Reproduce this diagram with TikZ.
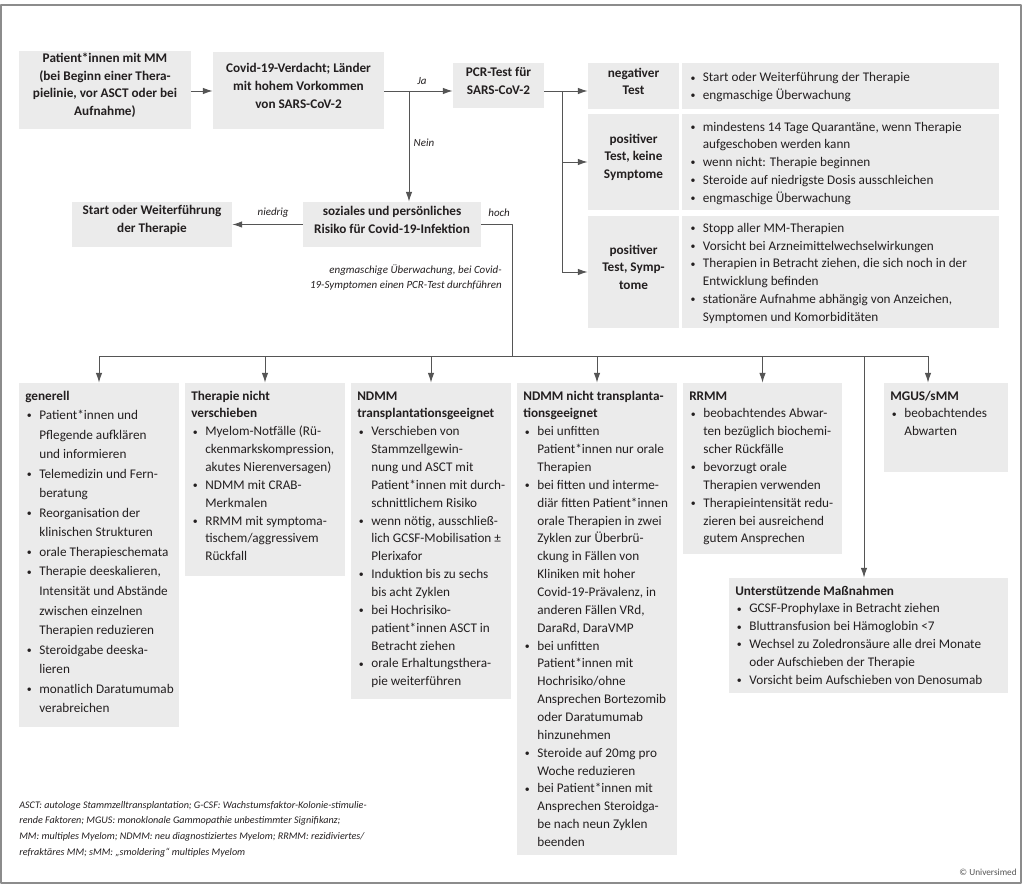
\documentclass[tikz,border=0pt]{standalone}
\usepackage{fontspec}
\setmainfont{Carlito}
\usetikzlibrary{arrows.meta,fit,calc}
\definecolor{ccInk}{HTML}{231F20}
\definecolor{ccBox}{HTML}{EBEBEB}
\definecolor{ccLine}{HTML}{555555}
\definecolor{ccFrame}{HTML}{8C8C8C}
\definecolor{ccMid}{HTML}{555555}
\tikzset{
 flowchart/.style={x=0.025cm,y=-0.025cm,text=ccInk,line join=round},
 box/.style={fill=ccBox,draw=none,inner sep=0pt},
 head/.style={box,font=\fontsize{9.4}{12.6}\selectfont\bfseries,align=center},
 listtxt/.style={inner sep=0pt,anchor=base west,font=\fontsize{9.4}{12.7}\selectfont,align=flush left,text width=3.8cm},
 sidetxt/.style={listtxt,anchor=west,font=\fontsize{9.4}{12.6}\selectfont,text width=7.6cm},
 tag/.style={font=\fontsize{7.8}{10.7}\selectfont\itshape,inner sep=0pt},
 conn/.style={draw=ccLine,line width=.7pt},
 arr/.style={conn,-{Latex[length=7pt,width=4.6pt]}},
 frame/.style={draw=ccFrame,line width=1.2pt}
}
\newcommand{\dotmark}{\raisebox{.5pt}{\fontsize{7}{7}\selectfont\textbullet}}
% bullet line / continuation line
\newcommand{\bu}{\makebox[10pt][l]{\hskip1.2pt\dotmark}}
\newcommand{\ci}{\hspace*{10pt}}

\begin{document}
\begin{tikzpicture}[flowchart]
 \useasboundingbox (0,0) rectangle (1024,885);
 \draw[frame] (1,5) rectangle (1021,883);

 % upper flow
 \node[head,fit={(19,51)(191,129)}] (patient) {Patient*innen mit MM\\(bei Beginn einer Thera-\\pielinie, vor ASCT oder bei\\Aufnahme)};
 \node[head,fit={(213,52)(384,129)}] (suspect) {Covid-19-Verdacht; Länder\\mit hohem Vorkommen\\von SARS-CoV-2};
 \node[head,fit={(453,63)(544,108)}] (pcr) {PCR-Test für\\SARS-CoV-2};
 \node[head,fit={(303,202)(481,247)}] (risk) {soziales und persönliches\\Risiko für Covid-19-Infektion};
 \node[head,fit={(72,202)(232,247)}] (start) {Start oder Weiterführung\\der Therapie};

 % test results
 \node[head,fit={(588,63)(679,109)}] (neg) {negativer\\Test};
 \node[head,fit={(588,114)(679,210)}] (posnosym) {positiver\\Test, keine\\Symptome};
 \node[head,fit={(588,216)(679,328)}] (possym) {positiver\\Test, Symp-\\tome};
 \node[box,fit={(682,63)(999,109)}] (negbox) {};
 \node[box,fit={(682,114)(999,210)}] (posnosymbox) {};
 \node[box,fit={(682,216)(999,328)}] (possymbox) {};
 \node[sidetxt] (negtxt) at ([xshift=.17cm,yshift=-.03cm]negbox.west) {\bu Start oder Weiterführung der Therapie\\\bu engmaschige Überwachung};
 \node[sidetxt] (posnosymtxt) at ([xshift=.17cm,yshift=-.03cm]posnosymbox.west) {\bu mindestens 14 Tage Quarantäne, wenn Therapie\\\ci aufgeschoben werden kann\\\bu wenn nicht: Therapie beginnen\\\bu Steroide auf niedrigste Dosis ausschleichen\\\bu engmaschige Überwachung};
 \node[sidetxt] (possymtxt) at ([xshift=.17cm,yshift=-.03cm]possymbox.west) {\bu Stopp aller MM-Therapien\\\bu Vorsicht bei Arzneimittelwechselwirkungen\\\bu Therapien in Betracht ziehen, die sich noch in der\\\ci Entwicklung befinden\\\bu stationäre Aufnahme abhängig von Anzeichen,\\\ci Symptomen und Komorbiditäten};

 \coordinate (ja) at (409,91);
 \coordinate (pcrfork) at (562,91);
 \coordinate (hi) at (512,356);
 \coordinate (mgusin) at (928,356);
 \coordinate (suppin) at (864,356);

 \draw[arr] (patient.east |- ja) -- (suspect.west |- ja);
 \draw[arr] (suspect.east |- ja) -- (pcr.west |- ja) node[tag,pos=.55,above=4pt] (lja) {Ja};
 \draw[arr] (ja) -- (ja |- risk.north) node[tag,pos=.47,right=3pt] (lnein) {Nein};
 \draw[arr] (risk.west) -- (start.east) node[tag,pos=.42,above=5pt] (lniedrig) {niedrig};
 \draw[conn] (risk.east) -- (risk.east -| hi) node[tag,pos=.58,above=5pt] (lhoch) {hoch} -- (hi);
 \draw[conn] (pcr.east |- ja) -- (pcrfork) -- (pcrfork |- possym.west);
 \draw[arr] (pcrfork) -- (neg.west |- ja);
 \draw[arr] (pcrfork |- posnosym.west) -- (posnosym.west);
 \draw[arr] (pcrfork |- possym.west) -- (possym.west);
 \node[tag,anchor=base east,align=flush right,text width=5cm] (watch) at (502,273.5) {engmaschige Überwachung, bei Covid-\\19-Symptomen einen PCR-Test durchführen};

 % lower boxes
 \node[box,fit={(19,383)(179,727)}] (gen) {};
 \node[box,fit={(185,383)(345,576)}] (keep) {};
 \node[box,fit={(351,383)(511,699)}] (ndmmtx) {};
 \node[box,fit={(517,383)(677,855)}] (ndmmnt) {};
 \node[box,fit={(683,383)(842,554)}] (rrmm) {};
 \node[box,fit={(884,383)(1008,472)}] (mgus) {};
 \node[box,fit={(729,578)(1008,693)}] (support) {};

 \draw[conn] (hi -| gen.north) -- (mgusin);
 \foreach \b in {gen,keep,ndmmtx,ndmmnt,rrmm}
  \draw[arr] (hi -| \b.north) -- (\b.north);
 \draw[arr] (mgusin) -- (mgusin |- mgus.north);
 \draw[arr] (suppin) -- (suppin |- support.north);

 \node[listtxt,font=\fontsize{9.4}{13.9}\selectfont] (gentxt) at (25,400) {\textbf{generell}\\\bu Patient*innen und\\\ci Pflegende aufklären\\\ci und informieren\\\bu Telemedizin und Fern-\\\ci beratung\\\bu Reorganisation der\\\ci klinischen Strukturen\\\bu orale Therapieschemata\\\bu Therapie deeskalieren,\\\ci Intensität und Abstände\\\ci zwischen einzelnen\\\ci Therapien reduzieren\\\bu Steroidgabe deeska-\\\ci lieren\\\bu monatlich Daratumumab\\\ci verabreichen};
 \node[listtxt] (keeptxt) at (191,400) {\textbf{Therapie nicht}\\\textbf{verschieben}\\\bu Myelom-Notfälle (Rü-\\\ci ckenmarkskompression,\\\ci akutes Nierenversagen)\\\bu NDMM mit CRAB-\\\ci Merkmalen\\\bu RRMM mit symptoma-\\\ci tischem/aggressivem\\\ci Rückfall};
 \node[listtxt] (ndmmtxtxt) at (357,400) {\textbf{NDMM}\\\textbf{transplantationsgeeignet}\\\bu Verschieben von\\\ci Stammzellgewin-\\\ci nung und ASCT mit\\\ci Patient*innen mit durch-\\\ci schnittlichem Risiko\\\bu wenn nötig, ausschließ-\\\ci lich GCSF-Mobilisation ±\\\ci Plerixafor\\\bu Induktion bis zu sechs\\\ci bis acht Zyklen\\\bu bei Hochrisiko-\\\ci patient*innen ASCT in\\\ci Betracht ziehen\\\bu orale Erhaltungsthera-\\\ci pie weiterführen};
 \node[listtxt] (ndmmnttxt) at (523,400) {\textbf{NDMM nicht transplanta-}\\\textbf{tionsgeeignet}\\\bu bei unfitten\\\ci Patient*innen nur orale\\\ci Therapien\\\bu bei fitten und interme-\\\ci diär fitten Patient*innen\\\ci orale Therapien in zwei\\\ci Zyklen zur Überbrü-\\\ci ckung in Fällen von\\\ci Kliniken mit hoher\\\ci Covid-19-Prävalenz, in\\\ci anderen Fällen VRd,\\\ci DaraRd, DaraVMP\\\bu bei unfitten\\\ci Patient*innen mit\\\ci Hochrisiko/ohne\\\ci Ansprechen Bortezomib\\\ci oder Daratumumab\\\ci hinzunehmen\\\bu Steroide auf 20mg pro\\\ci Woche reduzieren\\\bu bei Patient*innen mit\\\ci Ansprechen Steroidga-\\\ci be nach neun Zyklen\\\ci beenden};
 \node[listtxt] (rrmmtxt) at (689,400) {\textbf{RRMM}\\\bu beobachtendes Abwar-\\\ci ten bezüglich biochemi-\\\ci scher Rückfälle\\\bu bevorzugt orale\\\ci Therapien verwenden\\\bu Therapieintensität redu-\\\ci zieren bei ausreichend\\\ci gutem Ansprechen};
 \node[listtxt,text width=2.9cm] (mgustxt) at (890,400) {\textbf{MGUS/sMM}\\\bu beobachtendes\\\ci Abwarten};
 \node[listtxt,text width=6.8cm] (supporttxt) at (735,595) {\textbf{Unterstützende Maßnahmen}\\\bu GCSF-Prophylaxe in Betracht ziehen\\\bu Bluttransfusion bei Hämoglobin <7\\\bu Wechsel zu Zoledronsäure alle drei Monate\\\ci oder Aufschieben der Therapie\\\bu Vorsicht beim Aufschieben von Denosumab};

 \node[tag,font=\fontsize{7.2}{11.2}\selectfont\itshape,anchor=base west,align=flush left,text width=10cm] (abbr) at (19,808) {ASCT: autologe Stammzelltransplantation; G-CSF: Wachstumsfaktor-Kolonie-stimulie-\\rende Faktoren; MGUS: monoklonale Gammopathie unbestimmter Signifikanz;\\MM: multiples Myelom; NDMM: neu diagnostiziertes Myelom; RRMM: rezidiviertes/\\refraktäres MM; sMM: „smoldering“ multiples Myelom};
 \node[font=\fontsize{6.6}{8}\selectfont,text=ccMid,anchor=base east,inner sep=0pt] (copy) at (1017,875) {\textcopyright\ Universimed};
\end{tikzpicture}
\end{document}
